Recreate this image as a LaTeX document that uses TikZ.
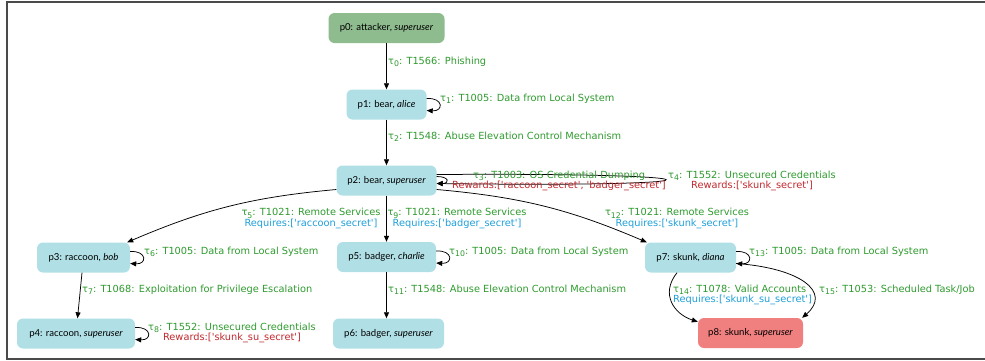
\documentclass[tikz,border=0pt]{standalone}
\usepackage{fontspec}
\setmainfont{Lato}
\newfontfamily\lblfont{DejaVu Sans}
\usetikzlibrary{arrows.meta}
\definecolor{nodeblue}{HTML}{B0E0E6}
\definecolor{nodegreen}{HTML}{8FBC8F}
\definecolor{nodered}{HTML}{F08080}
\definecolor{lblgreen}{HTML}{2E9A2E}
\definecolor{lblred}{HTML}{C0282D}
\definecolor{lblblue}{HTML}{1E9FD8}
\definecolor{framegray}{HTML}{4A4A4A}
\newcommand\tsb[1]{τ\raisebox{-0.45ex}{\fontsize{7.8}{8}\selectfont #1}}
\tikzset{
  state/.style={rounded corners=6pt, minimum height=30pt, inner xsep=0pt, fill=nodeblue,
    font=\fontsize{9.6}{11}\selectfont},
  edge/.style={draw=black, line width=0.75pt, -{Triangle[length=6pt,width=5pt]}},
  lbl/.style={font=\lblfont\fontsize{9.8}{10.3}\selectfont, text=lblgreen, inner sep=0pt, align=center},
}
\begin{document}
\begin{tikzpicture}[x=1pt,y=-1pt]
\useasboundingbox (0,0) rectangle (985,360);
\draw[framegray, line width=2pt] (985,1.8) -- (6.8,1.8) -- (6.8,358.6) -- (985,358.6);

% nodes
\node[state, fill=nodegreen, minimum width=116pt] (p0) at (386.5,28) {p0: attacker, \textit{superuser}};
\node[state, minimum width=80pt]  (p1) at (386.5,104.5) {p1: bear, \textit{alice}};
\node[state, minimum width=100pt] (p2) at (386.5,180.5) {p2: bear, \textit{superuser}};
\node[state, minimum width=93pt]  (p3) at (83.5,257.5) {p3: raccoon, \textit{bob}};
\node[state, minimum width=118pt] (p4) at (76,333.5) {p4: raccoon, \textit{superuser}};
\node[state, minimum width=99pt]  (p5) at (386.5,257) {p5: badger, \textit{charlie}};
\node[state, minimum width=111pt] (p6) at (388.5,333.5) {p6: badger, \textit{superuser}};
\node[state, minimum width=91pt]  (p7) at (690.5,257.5) {p7: skunk, \textit{diana}};
\node[state, fill=nodered, minimum width=105pt] (p8) at (750.5,333) {p8: skunk, \textit{superuser}};

% straight edges
\draw[edge] (p0) -- (p1);
\draw[edge] (p1) -- (p2);
\draw[edge] (p2) -- (p5);
\draw[edge] (p5.south) -- (p5.south |- p6.north);
\draw[edge] (p3) -- (p4);

% curved edges
\draw[edge] ([yshift=-9pt]p2.west) to[bend right=9] ([xshift=-3pt]p3.north east);
\draw[edge] ([yshift=-9pt]p2.east) to[bend left=9] ([xshift=2pt]p7.north west);
\draw[edge] ([xshift=-13.5pt]p7.south) .. controls (660,294) and (674,314) .. ([yshift=-4pt]p8.north west);
\draw[edge] ([yshift=-6pt]p7.east) .. controls (800,268) and (832,292) .. ([xshift=-1pt]p8.north east);

% self loops
\draw[edge] ([yshift=6pt]p1.east) .. controls +(17,-1) and +(17,1) .. ([yshift=-6pt]p1.east);
\draw[edge] ([yshift=4pt]p2.east) .. controls +(13,0) and +(13,0) .. ([yshift=-3pt]p2.east);
\draw[edge] ([yshift=6pt]p2.east) .. controls +(305,-2) and +(305,4) .. ([yshift=-3pt]p2.east);
\draw[edge] ([yshift=6pt]p3.east) .. controls +(17,-1) and +(17,1) .. ([yshift=-6pt]p3.east);
\draw[edge] ([yshift=6pt]p4.east) .. controls +(17,-1) and +(17,1) .. ([yshift=-6pt]p4.east);
\draw[edge] ([yshift=6pt]p5.east) .. controls +(17,-1) and +(17,1) .. ([yshift=-6pt]p5.east);
\draw[edge] ([yshift=6pt]p7.east) .. controls +(17,-1) and +(17,1) .. ([yshift=-6pt]p7.east);

% labels
\node[lbl, anchor=west] (l0) at (388,62) {\tsb{0}: T1566: Phishing};
\node[lbl, anchor=west] (l1) at (440,99) {\tsb{1}: T1005: Data from Local System};
\node[lbl, anchor=west] (l2) at (388,137) {\tsb{2}: T1548: Abuse Elevation Control Mechanism};
\node[lbl] (l3) at (559,181) {\tsb{3}: T1003: OS Credential Dumping\\\textcolor{lblred}{Rewards:['raccoon\_secret', 'badger\_secret']}};
\node[lbl] (l4) at (752,181) {\tsb{4}: T1552: Unsecured Credentials\\\textcolor{lblred}{Rewards:['skunk\_secret']}};
\node[lbl] (l5) at (311,218.5) {\tsb{5}: T1021: Remote Services\\\textcolor{lblblue}{Requires:['raccoon\_secret']}};
\node[lbl] (l9) at (457,218.5) {\tsb{9}: T1021: Remote Services\\\textcolor{lblblue}{Requires:['badger\_secret']}};
\node[lbl] (l12) at (677,218.5) {\tsb{12}: T1021: Remote Services\\\textcolor{lblblue}{Requires:['skunk\_secret']}};
\node[lbl, anchor=west] (l6) at (144,252) {\tsb{6}: T1005: Data from Local System};
\node[lbl, anchor=west] (l7) at (82,290) {\tsb{7}: T1068: Exploitation for Privilege Escalation};
\node[lbl] (l8) at (232,333) {\tsb{8}: T1552: Unsecured Credentials\\\textcolor{lblred}{Rewards:['skunk\_su\_secret']}};
\node[lbl, anchor=west] (l10) at (449,252) {\tsb{10}: T1005: Data from Local System};
\node[lbl, anchor=west] (l11) at (388,290) {\tsb{11}: T1548: Abuse Elevation Control Mechanism};
\node[lbl, anchor=west] (l13) at (749,252) {\tsb{13}: T1005: Data from Local System};
\node[lbl, anchor=west, align=left] (l14) at (673,295) {\tsb{14}: T1078: Valid Accounts\\\textcolor{lblblue}{Requires:['skunk\_su\_secret']}};
\node[lbl, anchor=west] (l15) at (819,290) {\tsb{15}: T1053: Scheduled Task/Job};
\end{tikzpicture}
\end{document}
